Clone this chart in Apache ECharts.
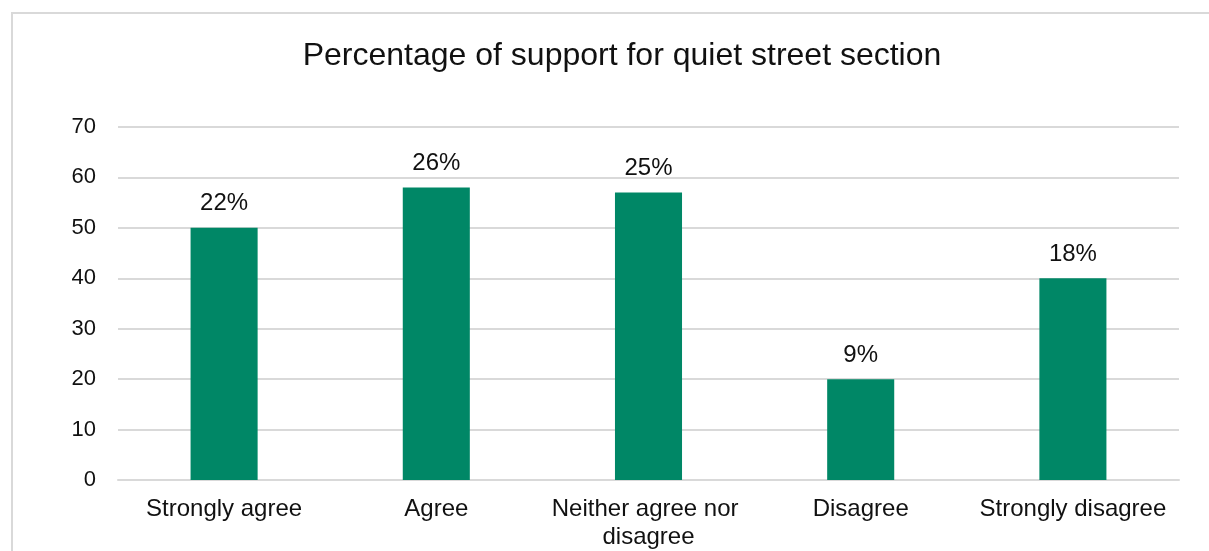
<!DOCTYPE html>
<html>
<head>
<meta charset="utf-8">
<script src="https://cdn.jsdelivr.net/npm/echarts@6/dist/echarts.min.js"></script>
<style>
  html, body { margin: 0; padding: 0; background: #ffffff; }
  #chart { width: 1209px; height: 551px; }
</style>
</head>
<body>
<div id="chart"></div>
<script>
// Survey responses on the quiet street section
const titleText = 'Percentage of support for quiet street section';
const categories = ['Strongly agree', 'Agree', 'Neither agree nor disagree', 'Disagree', 'Strongly disagree'];
const responseCounts = [50, 58, 57, 20, 40];
const yTicks = [0, 10, 20, 30, 40, 50, 60, 70];

const total = responseCounts.reduce((a, b) => a + b, 0);
const FONT = '"Liberation Sans", Arial, sans-serif';
const TEXT = '#111111';

const chart = echarts.init(document.getElementById('chart'), null, { renderer: 'canvas' });

chart.setOption({
  backgroundColor: '#ffffff',
  animation: false,
  graphic: [{
    type: 'rect',
    silent: true,
    shape: { x: 12, y: 13, width: 1400, height: 800 },
    style: { fill: 'none', stroke: '#d9d9d9', lineWidth: 2 }
  }],
  title: {
    text: titleText,
    left: 617,
    top: 35,
    textAlign: 'center',
    textStyle: { fontFamily: FONT, fontSize: 32, fontWeight: 'normal', color: TEXT }
  },
  grid: { left: 118, right: 30, top: 127, bottom: 68, containLabel: false },
  xAxis: {
    type: 'category',
    data: categories,
    axisLine: { show: true, lineStyle: { color: '#d9d9d9', width: 2 } },
    axisTick: { show: false },
    axisLabel: {
      interval: 0,
      margin: 15,
      fontFamily: FONT,
      fontSize: 24,
      color: TEXT,
      width: 205,
      overflow: 'break',
      lineHeight: 28
    }
  },
  yAxis: {
    type: 'value',
    min: yTicks[0],
    max: yTicks[yTicks.length - 1],
    interval: 10,
    axisLine: { show: false },
    axisTick: { show: false },
    splitLine: { lineStyle: { color: '#d9d9d9', width: 2 } },
    axisLabel: { margin: 22, fontFamily: FONT, fontSize: 22, color: TEXT }
  },
  series: [{
    type: 'bar',
    data: responseCounts,
    barWidth: '31.6%',
    itemStyle: { color: '#008766' },
    label: {
      show: true,
      position: 'top',
      distance: 12,
      fontFamily: FONT,
      fontSize: 24,
      color: TEXT,
      formatter: p => Math.round(p.value / total * 100) + '%'
    }
  }]
});
</script>
</body>
</html>
